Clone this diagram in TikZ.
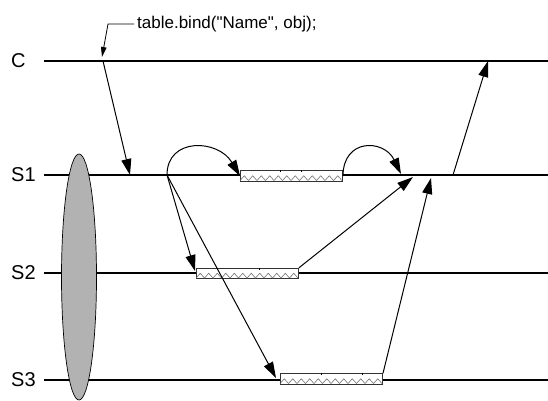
\documentclass[tikz,border=0pt]{standalone}
\usepackage{fontspec}
\setmainfont{Liberation Sans}[Ligatures=TeXOff]
\usetikzlibrary{arrows.meta,shapes.geometric}
\begin{document}
\begin{tikzpicture}[x=1pt,y=-1pt,
  timeline/.style={line width=2.7pt},
  msg/.style={line width=1pt,-{Triangle[length=16pt,width=10pt]}},
  note/.style={line width=0.8pt,-{Triangle[length=10pt,width=5.5pt]}},
  lbl/.style={font=\fontsize{20}{22}\selectfont, anchor=west, inner sep=0pt},
  tick/.style={line width=0.5pt},
  zig/.style={black!55, line width=0.6pt},
  workbox/.style={draw=black!80, fill=white, line width=1pt, inner sep=0pt,
    minimum width=102pt, minimum height=10.5pt},
]
\useasboundingbox (0,0) rectangle (548,400);

% process labels
\node[lbl] (lC)  at (11,61)  {C};
\node[lbl] (lS1) at (11,175) {S1};
\node[lbl] (lS2) at (11,273) {S2};
\node[lbl] (lS3) at (11,380) {S3};

% time lines
\coordinate (C0)  at (44,61);   \coordinate (C1)  at (548,61);
\coordinate (S10) at (44,175);  \coordinate (S11) at (548,175);
\coordinate (S20) at (44,273);  \coordinate (S21) at (548,273);
\coordinate (S30) at (44,380);  \coordinate (S31) at (548,380);
\draw[timeline] (C0) -- (C1);
\draw[timeline] (S10) -- (S11);
\draw[timeline] (S20) -- (S21);
\draw[timeline] (S30) -- (S31);

% replica group
\node[ellipse, draw, line width=0.7pt, fill=black!30, inner sep=0pt,
      minimum width=35pt, minimum height=246pt] (grp) at (79,277) {};

% work intervals with their zigzag fill
\node[workbox] (b1) at (291.5,176) {};
\node[workbox] (b2) at (247.5,273.5) {};
\node[workbox] (b3) at (331.5,379) {};
\foreach \b in {b1,b2,b3}{
  \draw[zig] ([yshift=1.2pt]\b.south west)
    \foreach \i in {1,...,12} { -- ++(4.25,-4.8) -- ++(4.25,4.8) };
}
\draw[tick] ([xshift=40pt]b1.north west) -- ++(0,2);
\draw[tick] ([xshift=61pt]b1.north west) -- ++(0,2);
\draw[tick] ([xshift=21pt]b2.north west) -- ++(0,2);
\draw[tick] ([xshift=63pt]b2.north west) -- ++(0,2);
\draw[tick] ([xshift=41pt]b3.north west) -- ++(0,2);
\draw[tick] ([xshift=82pt]b3.north west) -- ++(0,2);

% call annotation
\node[font=\fontsize{17}{19}\selectfont, anchor=west, inner sep=3pt] (code) at (134,24) {table.bind("Name", obj);};
\coordinate (bend) at (108,24);
\coordinate (mark) at (102,57);
\draw[note] (code.west) -- (bend) -- (mark);

% message points
\coordinate (call)  at (103,61);
\coordinate (recv)  at (130,175);
\coordinate (fork)  at (167,175);
\coordinate (join1) at (401,174);
\coordinate (in2)   at (413,177);
\coordinate (in3)   at (431,178);
\coordinate (out)   at (453,175);
\coordinate (ret)   at (488,61);
\coordinate (at2)   at (195,271);
\coordinate (at3)   at (276,378);

% messages
\draw[msg] (call) -- (recv);
\draw[msg] (fork) .. controls +(0,-38) and +(-22,-37) .. (b1.west);
\draw[msg] (b1.east) .. controls +(0,-38) and +(-17,-35) .. (join1);
\draw[msg] (fork) -- (at2);
\draw[msg] (fork) -- (at3);
\draw[msg] (b2.north east) -- (in2);
\draw[msg] (b3.north east) -- (in3);
\draw[msg] (out) -- (ret);
\end{tikzpicture}
\end{document}
